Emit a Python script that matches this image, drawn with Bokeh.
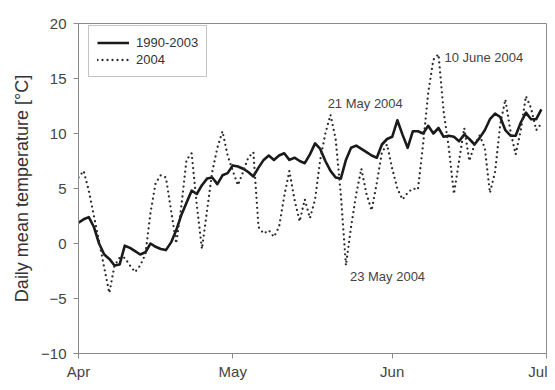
from datetime import date, datetime, timedelta
from bokeh.plotting import figure
from bokeh.models import Range1d, MonthsTicker, DatetimeTickFormatter, FixedTicker, Legend, ColumnDataSource
from bokeh.core.properties import value
from bokeh.embed import file_html
from bokeh.resources import INLINE

# Daily mean temperature [°C], 1 April .. 30 June
mean_1990_2003 = [1.9, 2.2, 2.4, 1.5, 0.0, -1.0, -1.4, -2.0, -1.9, -0.2,
                  -0.4, -0.7, -1.0, -0.8, 0.0, -0.3, -0.5, -0.6, 0.1, 1.2,
                  2.6, 3.7, 4.8, 4.5, 5.3, 5.9, 6.0, 5.4, 6.2, 6.4,
                  7.1, 7.0, 6.8, 6.5, 6.1, 6.9, 7.6, 8.0, 7.6, 8.0,
                  8.2, 7.6, 7.8, 7.5, 7.3, 8.1, 9.1, 8.6, 7.5, 6.6,
                  6.0, 5.9, 7.6, 8.7, 8.9, 8.6, 8.3, 8.0, 7.8, 9.0,
                  9.5, 9.7, 11.2, 9.9, 8.7, 10.2, 10.2, 10.0, 10.7, 10.0,
                  10.5, 9.7, 9.8, 9.7, 9.3, 9.9, 9.5, 9.0, 9.6, 10.3,
                  11.3, 11.8, 11.5, 10.3, 9.8, 9.8, 11.0, 11.9, 11.3, 11.3,
                  12.2]

temp_2004 = [6.0, 6.6, 4.8, 2.5, 0.2, -2.2, -4.5, -2.0, -1.3, -1.3,
             -2.0, -2.6, -2.0, -1.0, 2.8, 5.5, 6.2, 6.0, 3.0, 0.0,
             3.4, 7.6, 8.2, 3.5, -0.5, 3.0, 6.5, 8.7, 10.2, 8.0,
             6.6, 5.3, 6.5, 7.8, 8.3, 1.5, 0.9, 1.2, 0.6, 1.5,
             4.3, 6.6, 4.0, 2.0, 4.0, 2.3, 4.0, 7.6, 10.0, 11.7,
             9.5, 4.5, -2.0, 1.5, 4.5, 6.8, 4.5, 3.0, 5.5, 8.3,
             9.0, 6.8, 5.0, 4.0, 4.6, 5.0, 4.9, 9.0, 13.7, 16.7,
             17.2, 12.0, 8.7, 4.5, 7.5, 10.5, 7.5, 9.0, 9.8, 8.7,
             4.6, 6.5, 10.8, 13.1, 10.2, 8.1, 10.3, 13.4, 12.3, 10.3,
             10.9]

series_labels = ["1990-2003", "2004"]
y_ticks = [-10, -5, 0, 5, 10, 15, 20]

ann_dates = [date(2004, 5, 21), date(2004, 6, 10), date(2004, 5, 23)]
ann_labels = ["21 May 2004", "10 June 2004", "23 May 2004"]

start = date(2004, 4, 1)
days = [datetime(2004, 4, 1) + timedelta(days=i) for i in range(len(mean_1990_2003))]

FONT = "Liberation Sans"
FRAME_W, FRAME_H = 468, 330

p = figure(frame_width=FRAME_W, frame_height=FRAME_H, x_axis_type="datetime",
           x_range=Range1d(datetime(2004, 4, 1), datetime(2004, 7, 1)),
           y_range=Range1d(-10, 20),
           output_backend="svg", toolbar_location=None,
           min_border_left=78, min_border_right=1, min_border_top=23, min_border_bottom=29)

p.background_fill_color = "white"
p.border_fill_color = "white"
p.outline_line_color = "#8a8a8a"
p.outline_line_width = 1
p.grid.visible = False

r1 = p.line(days, mean_1990_2003, line_color="#1a1a1a", line_width=2.6, line_join="round")
r2 = p.line(days, temp_2004, line_color="#2a2a2a", line_width=2.3, line_dash="0 5", line_cap="round")

# annotations anchored to the 2004 series at the named dates
idx = [(d - start).days for d in ann_dates]
src = ColumnDataSource(dict(
    x=[days[i] for i in idx],
    y=[temp_2004[i] for i in idx],
    text=ann_labels,
    xo=[-8, 6, 4],
    yo=[-36, 3, 11],
))
p.text(x="x", y="y", text="text", x_offset="xo", y_offset="yo", source=src,
       text_font=value(FONT), text_font_size="13px", text_color="#444444",
       text_align="left", text_baseline="middle")

# axes
p.xaxis.ticker = MonthsTicker(months=list(range(12)))
p.xaxis.formatter = DatetimeTickFormatter(months="%b", days="%b", years="%b")
p.yaxis.ticker = FixedTicker(ticks=y_ticks)
for ax in (p.xaxis, p.yaxis):
    ax.axis_line_color = "#8a8a8a"
    ax.axis_line_width = 1
    ax.major_tick_line_color = "#8a8a8a"
    ax.major_tick_in = 0
    ax.major_tick_out = 5
    ax.minor_tick_line_color = None
    ax.major_label_text_font = FONT
    ax.major_label_text_font_size = "15px"
    ax.major_label_text_color = "#444444"
p.xaxis.major_label_standoff = 4
p.yaxis.major_label_standoff = 7
p.yaxis.axis_label = "Daily mean temperature [°C]"
p.yaxis.axis_label_text_font = FONT
p.yaxis.axis_label_text_font_size = "18px"
p.yaxis.axis_label_text_font_style = "normal"
p.yaxis.axis_label_text_color = "#333333"
p.yaxis.axis_label_standoff = 6

legend = Legend(items=[(series_labels[0], [r1]), (series_labels[1], [r2])],
                location=(10, FRAME_H - 4 - 50))
legend.border_line_color = "#8a8a8a"
legend.border_line_width = 1
legend.background_fill_color = "white"
legend.background_fill_alpha = 1
legend.padding = 8
legend.spacing = 0
legend.margin = 0
legend.glyph_width = 32
legend.glyph_height = 17
legend.label_height = 17
legend.label_standoff = 7
legend.label_text_font = FONT
legend.label_text_font_size = "13px"
legend.label_text_color = "#333333"
p.add_layout(legend)

open("out.html", "w").write(file_html(p, INLINE))
